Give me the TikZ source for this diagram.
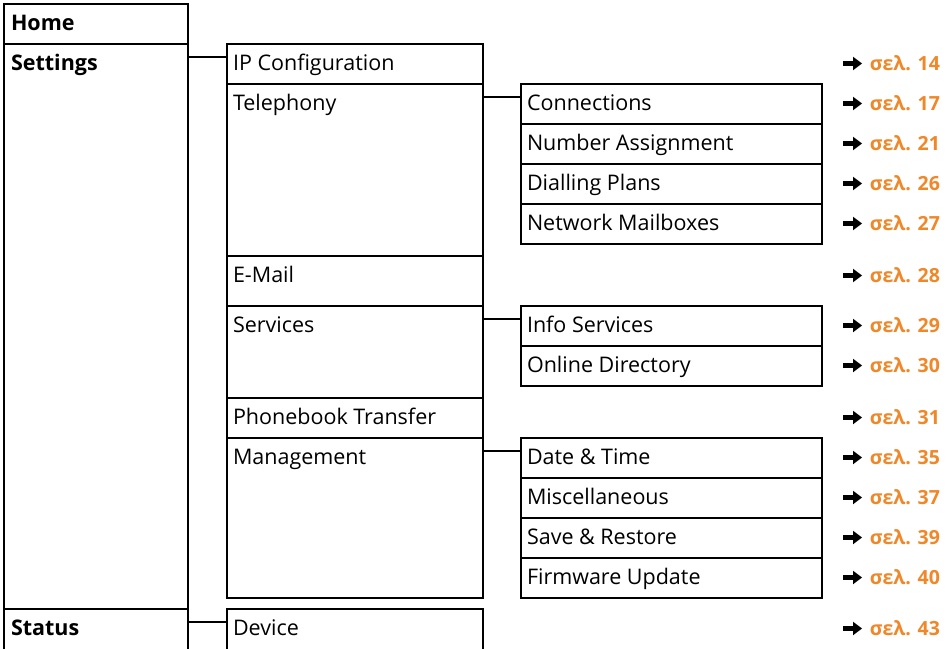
\documentclass[tikz,border=0pt]{standalone}
\usepackage{fontspec}
\setmainfont{Open Sans}
\usetikzlibrary{calc}
\definecolor{refor}{RGB}{240,135,40}
\tikzset{
  box/.style={draw, line width=1.3pt, anchor=north west, inner sep=0pt, outer sep=0pt},
  lbl/.style={anchor=base west, inner sep=0pt, outer sep=0pt, font=\fontsize{21.5}{25}\selectfont},
  blbl/.style={lbl, font=\fontsize{21.5}{25}\selectfont\bfseries},
  refl/.style={anchor=base east, inner sep=0pt, outer sep=0pt, text=refor, font=\fontsize{19.5}{23}\selectfont\bfseries},
  conn/.style={line width=1.3pt},
  pics/rarrow/.style={code={\fill (0,-2.4) -- (10,-2.4) -- (10,-6.8) -- (19,0) -- (10,6.8) -- (10,2.4) -- (0,2.4) -- cycle;}}
}
% name, x, y(top), width, height, text, label style, inset
\newcommand\mnbox[8]{%
  \node[box, minimum width=#4pt, minimum height=#5pt] (#1) at (#2,#3) {};
  \node[#7] (#1t) at ($(#1.north west)+(#8,26.5)$) {#6};
}
\newcommand\mnref[3]{% name, row top, text
  \node[refl] (#1) at (940,#2+26) {#3};
  \pic at (843,#2+19.5) {rarrow};
}
\begin{document}
\begin{tikzpicture}[x=1pt,y=-1pt]
\clip (0,0) rectangle (952,648);
\fill[white] (0,0) rectangle (952,648);
% column 1
\mnbox{home}{4}{4}{184}{40}{Home}{blbl}{7}
\mnbox{settings}{4}{44}{184}{565}{Settings}{blbl}{7}
\mnbox{status}{4}{609}{184}{60}{Status}{blbl}{7}
% column 2
\mnbox{ipc}{227}{44}{256}{40}{IP Configuration}{lbl}{6}
\mnbox{tel}{227}{84}{256}{172}{Telephony}{lbl}{6}
\mnbox{email}{227}{256}{256}{50}{E-Mail}{lbl}{6}
\mnbox{serv}{227}{306}{256}{92}{Services}{lbl}{6}
\mnbox{pbt}{227}{398}{256}{40}{Phonebook Transfer}{lbl}{6}
\mnbox{mgmt}{227}{438}{256}{160}{Management}{lbl}{6}
\mnbox{dev}{227}{609}{256}{60}{Device}{lbl}{6}
% column 3
\mnbox{conn}{521}{84}{301}{40}{Connections}{lbl}{6}
\mnbox{num}{521}{124}{301}{40}{Number Assignment}{lbl}{6}
\mnbox{dial}{521}{164}{301}{40}{Dialling Plans}{lbl}{6}
\mnbox{netmb}{521}{204}{301}{40}{Network Mailboxes}{lbl}{6}
\mnbox{info}{521}{306}{301}{40}{Info Services}{lbl}{6}
\mnbox{online}{521}{346}{301}{40}{Online Directory}{lbl}{6}
\mnbox{date}{521}{438}{301}{40}{Date \& Time}{lbl}{6}
\mnbox{misc}{521}{478}{301}{40}{Miscellaneous}{lbl}{6}
\mnbox{save}{521}{518}{301}{40}{Save \& Restore}{lbl}{6}
\mnbox{fw}{521}{558}{301}{40}{Firmware Update}{lbl}{6}
% connectors
\draw[conn] ([yshift=-13pt]settings.north east) -- ([yshift=-13pt]ipc.north west);
\draw[conn] ([yshift=-13pt]status.north east) -- ([yshift=-13pt]dev.north west);
\draw[conn] ([yshift=-13pt]tel.north east) -- ([yshift=-13pt]conn.north west);
\draw[conn] ([yshift=-13pt]serv.north east) -- ([yshift=-13pt]info.north west);
\draw[conn] ([yshift=-13pt]mgmt.north east) -- ([yshift=-13pt]date.north west);
% page references
\mnref{r14}{44}{σελ. 14}
\mnref{r17}{84}{σελ. 17}
\mnref{r21}{124}{σελ. 21}
\mnref{r26}{164}{σελ. 26}
\mnref{r27}{204}{σελ. 27}
\mnref{r28}{256}{σελ. 28}
\mnref{r29}{306}{σελ. 29}
\mnref{r30}{346}{σελ. 30}
\mnref{r31}{398}{σελ. 31}
\mnref{r35}{438}{σελ. 35}
\mnref{r37}{478}{σελ. 37}
\mnref{r39}{518}{σελ. 39}
\mnref{r40}{558}{σελ. 40}
\mnref{r43}{609}{σελ. 43}
\end{tikzpicture}
\end{document}
